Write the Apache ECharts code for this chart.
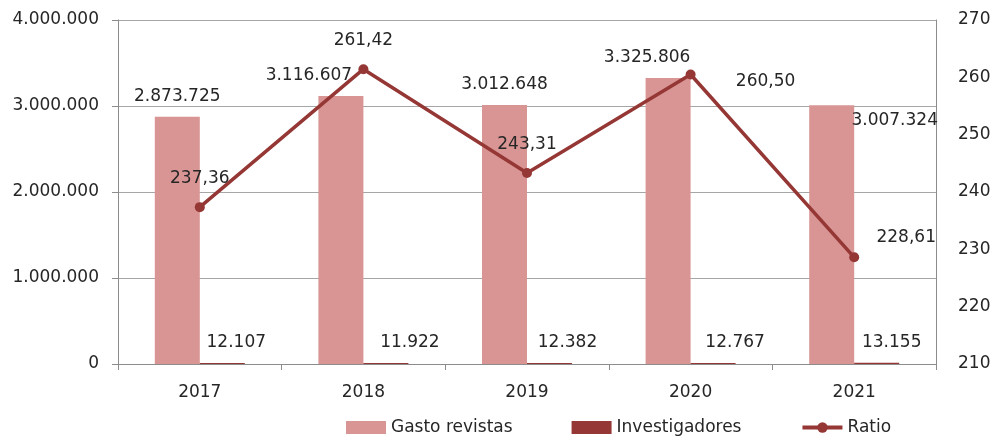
<!DOCTYPE html>
<html>
<head>
<meta charset="utf-8">
<script src="https://cdn.jsdelivr.net/npm/echarts@6/dist/echarts.min.js"></script>
<style>
html,body{margin:0;padding:0;background:#fff;}
#chart{width:995px;height:439px;}
</style>
</head>
<body>
<div id="chart"></div>
<script>
const categories = ['2017', '2018', '2019', '2020', '2021'];
const gastoRevistas = [2873725, 3116607, 3012648, 3325806, 3007324];
const investigadores = [12107, 11922, 12382, 12767, 13155];
const ratio = [237.36, 261.42, 243.31, 260.50, 228.61];
const leftTicks = [0, 1000000, 2000000, 3000000, 4000000];
const rightTicks = [210, 220, 230, 240, 250, 260, 270];

const FONT = 'DejaVu Sans';
const TXT = '#262626';
const FS = 17;
const fmtThousands = v => String(Math.round(v)).replace(/\B(?=(\d{3})+(?!\d))/g, '.');
const fmtRatio = v => v.toFixed(2).replace('.', ',');

// label nudges (layout only)
const gastoOffsets = [[0,0],[-32,0],[0,0],[-21,0],[63,36]];
const invOffsets = [[14,0],[24,0],[18,0],[22,0],[15,0]];
const ratioOffsets = [[0,0],[0,0],[0,0],[75,36],[52,9]];

const chart = echarts.init(document.getElementById('chart'));
const labelBase = {fontFamily: FONT, fontSize: FS, color: TXT};

chart.setOption({
  animation: false,
  textStyle: {fontFamily: FONT},
  grid: {left: 118, right: 59, top: 20, bottom: 75, containLabel: false},
  legend: {
    left: 346, top: 419, padding: 0,
    itemWidth: 40, itemHeight: 13, itemGap: 59,
    textStyle: {fontFamily: FONT, fontSize: FS, color: TXT},
    data: [
      {name: 'Gasto revistas', icon: 'rect'},
      {name: 'Investigadores', icon: 'rect'},
      {name: 'Ratio', lineStyle: {width: 4}}
    ]
  },
  xAxis: {
    type: 'category',
    data: categories,
    axisLine: {lineStyle: {color: '#8c8c8c', width: 1}},
    axisTick: {show: true, length: 6, lineStyle: {color: '#8c8c8c'}},
    axisLabel: {fontFamily: FONT, fontSize: FS, color: TXT, margin: 20}
  },
  yAxis: [
    {
      type: 'value', min: leftTicks[0], max: leftTicks[leftTicks.length-1], interval: leftTicks[1]-leftTicks[0],
      axisLine: {show: true, lineStyle: {color: '#8c8c8c'}},
      axisTick: {show: true, length: 6, lineStyle: {color: '#8c8c8c'}},
      splitLine: {lineStyle: {color: '#a6a6a6'}},
      axisLabel: {fontFamily: FONT, fontSize: FS, color: TXT, margin: 19, formatter: fmtThousands}
    },
    {
      type: 'value', min: rightTicks[0], max: rightTicks[rightTicks.length-1], interval: rightTicks[1]-rightTicks[0],
      axisLine: {show: true, lineStyle: {color: '#8c8c8c'}},
      axisTick: {show: false},
      splitLine: {show: false},
      axisLabel: {fontFamily: FONT, fontSize: FS, color: TXT, margin: 22}
    }
  ],
  series: [
    {
      name: 'Gasto revistas', type: 'bar', yAxisIndex: 0,
      barWidth: 45, barGap: '0%',
      itemStyle: {color: '#D99594'},
      data: gastoRevistas.map((v,i) => ({value: v, label: {offset: gastoOffsets[i]}})),
      label: Object.assign({show: true, position: 'top', distance: 12, formatter: p => fmtThousands(p.value)}, labelBase)
    },
    {
      name: 'Investigadores', type: 'bar', yAxisIndex: 0,
      barWidth: 45, barGap: '0%',
      itemStyle: {color: '#953735'},
      data: investigadores.map((v,i) => ({value: v, label: {offset: invOffsets[i]}})),
      label: Object.assign({show: true, position: 'top', distance: 12, formatter: p => fmtThousands(p.value)}, labelBase)
    },
    {
      name: 'Ratio', type: 'line', yAxisIndex: 1,
      symbol: 'circle', symbolSize: 10,
      lineStyle: {color: '#953735', width: 3.5},
      itemStyle: {color: '#953735'},
      data: ratio.map((v,i) => ({value: v, label: {offset: ratioOffsets[i]}})),
      label: Object.assign({show: true, position: 'top', distance: 15, formatter: p => fmtRatio(p.value)}, labelBase)
    }
  ]
});
</script>
</body>
</html>
